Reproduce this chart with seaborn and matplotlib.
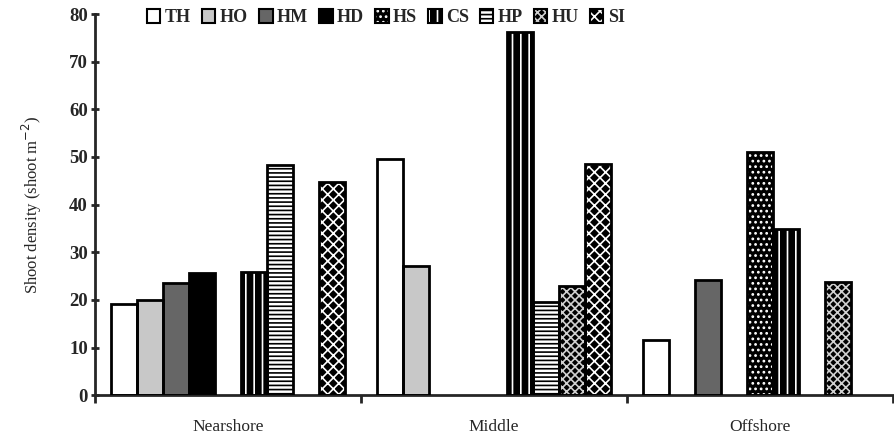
import matplotlib
matplotlib.use("Agg")
import matplotlib.pyplot as plt
from matplotlib.patches import Patch, Rectangle
import numpy as np
import pandas as pd
import seaborn as sns

# data (shoot m^-2), NaN = species absent
sites = ["Nearshore", "Middle", "Offshore"]
species = ["TH", "HO", "HM", "HD", "HS", "CS", "HP", "HU", "SI"]
TH = [19.1, 49.6, 11.6]
HO = [20.0, 27.1, np.nan]
HM = [23.5, np.nan, 24.2]
HD = [25.6, np.nan, np.nan]
HS = [np.nan, np.nan, 51.0]
CS = [25.8, 76.2, 34.9]
HP = [48.3, 19.6, np.nan]
HU = [np.nan, 23.0, 23.7]
SI = [44.7, 48.6, np.nan]

values = {"TH": TH, "HO": HO, "HM": HM, "HD": HD, "HS": HS,
          "CS": CS, "HP": HP, "HU": HU, "SI": SI}

rows = []
for sp in species:
    for site, v in zip(sites, values[sp]):
        rows.append({"site": site, "species": sp, "density": v})
df = pd.DataFrame(rows).dropna()

# face colour, hatch colour, hatch
styles = {
    "TH": ("white", "black", ""),
    "HO": ("#c8c8c8", "black", ""),
    "HM": ("#666666", "black", ""),
    "HD": ("black", "black", ""),
    "HS": ("black", "white", "..."),
    "CS": ("black", "white", "||"),
    "HP": ("white", "black", "----"),
    "HU": ("black", "#d0d0d0", "xxxx"),
    "SI": ("black", "white", "///\\\\\\"),
}

sns.set_style("ticks")
plt.rcParams["font.family"] = ["Liberation Serif", "DejaVu Serif"]
plt.rcParams["hatch.linewidth"] = 1.2

fig = plt.figure(figsize=(8.94, 4.41), dpi=100)
ax = fig.add_axes([0.106, 0.104, 0.893, 0.864])

sns.barplot(data=df, x="site", y="density", hue="species", order=sites,
            hue_order=species, width=0.88, gap=0, dodge=True, legend=False, ax=ax)

for sp, cont in zip(species, ax.containers):
    fc, hc, h = styles[sp]
    for bar in cont:
        bar.set_facecolor(fc)
        bar.set_edgecolor(hc)
        bar.set_hatch(h)
        bar.set_linewidth(0)
        ax.add_patch(Rectangle(bar.get_xy(), bar.get_width(), bar.get_height(),
                               fill=False, edgecolor="black", linewidth=2, zorder=3))

ax.set_xlim(-0.5, 2.5)
ax.set_ylim(0, 80)
ax.set_yticks(range(0, 81, 10))
ax.set_xticks([-0.5, 0.5, 1.5, 2.5])
ax.set_xticklabels([])
ax.set_xticks([0, 1, 2], minor=True)
ax.set_xticklabels(sites, minor=True, fontsize=12.5)
ax.tick_params(axis="x", which="minor", length=0, pad=17)
ax.tick_params(axis="x", which="major", length=6, width=2, direction="out")
ax.tick_params(axis="y", length=6, width=2, direction="inout", labelsize=13.5, pad=2)
for lab in ax.get_yticklabels():
    lab.set_fontweight("bold")
ax.set_xlabel("")
ax.set_ylabel("Shoot density (shoot m$^{-2}$)", fontsize=12, labelpad=18)
sns.despine(ax=ax)
for s in ["left", "bottom"]:
    ax.spines[s].set_linewidth(2)

handles = []
for sp in species:
    fc, hc, h = styles[sp]
    fill = Patch(facecolor=fc, edgecolor=hc, hatch=h, linewidth=0)
    edge = Patch(facecolor="none", edgecolor="black", linewidth=1.5)
    handles.append((fill, edge))
leg = ax.legend(handles=handles, labels=species, ncol=9, loc="upper left",
                bbox_to_anchor=(0.045, 1.055), frameon=False, handlelength=0.75,
                handleheight=0.75, handletextpad=0.25, columnspacing=0.6,
                prop={"weight": "bold", "size": 13})

fig.savefig("out.png", dpi=100)
